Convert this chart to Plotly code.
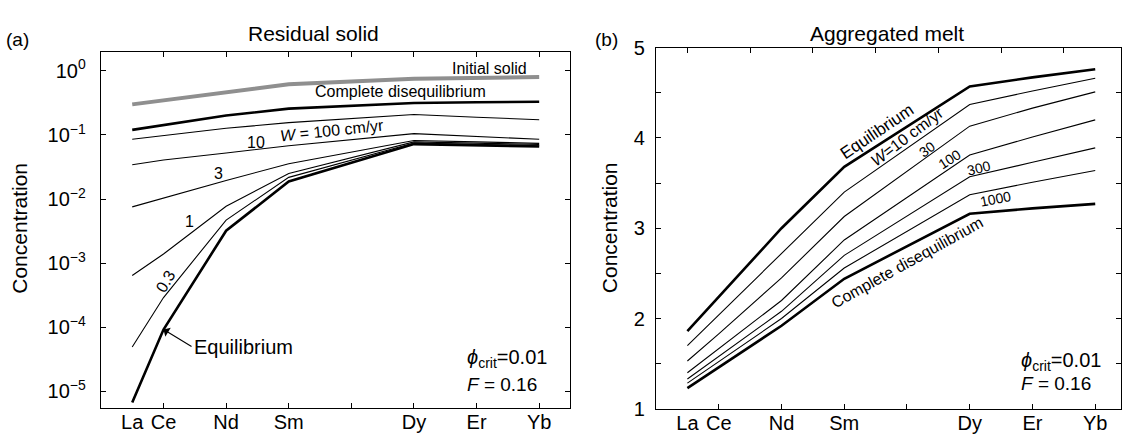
import numpy as np
import plotly.graph_objects as go

# ---------------- data ----------------
elements = ["La", "Ce", "Nd", "Sm", "Dy", "Er", "Yb"]
atomic_number = [57, 58, 60, 62, 66, 68, 70]

tick_positions = [58, 60, 62, 64, 66, 68, 70]
top_tick_positions_b = [57, 59, 61, 63, 65, 67, 69]

# (a) Residual solid
solid_initial = [0.30, 0.346, 0.45, 0.62, 0.753, 0.775, 0.80]
solid_complete_diseq = [0.120, 0.143, 0.201, 0.258, 0.316, 0.324, 0.33]
solid_W100 = [0.0855, 0.098, 0.127, 0.156, 0.208, 0.189, 0.173]
solid_W10 = [0.0343, 0.0407, 0.0524, 0.068, 0.105, 0.0946, 0.0855]
solid_W3 = [0.00755, 0.0104, 0.0195, 0.0355, 0.082, 0.078, 0.074]
solid_W1 = [0.00064, 0.00139, 0.0077, 0.025, 0.078, 0.075, 0.071]
solid_W03 = [4.9e-5, 2.9e-4, 0.0047, 0.0218, 0.075, 0.071, 0.068]
solid_equilibrium = [6.7e-6, 9.2e-5, 0.0032, 0.0188, 0.072, 0.069, 0.066]

a_ytick_vals = [1e-5, 1e-4, 1e-3, 1e-2, 1e-1, 1e0]
a_ytick_text = ["10<sup>−5</sup>", "10<sup>−4</sup>", "10<sup>−3</sup>",
                "10<sup>−2</sup>", "10<sup>−1</sup>", "10<sup>0</sup>"]

# (b) Aggregated melt
melt_equilibrium = [1.86, 2.24, 3.00, 3.68, 4.57, 4.67, 4.76]
melt_W10 = [1.70, 2.04, 2.73, 3.40, 4.37, 4.52, 4.66]
melt_W30 = [1.53, 1.83, 2.45, 3.13, 4.13, 4.33, 4.51]
melt_W100 = [1.40, 1.67, 2.20, 2.87, 3.81, 4.01, 4.20]
melt_W300 = [1.33, 1.58, 2.08, 2.70, 3.57, 3.73, 3.89]
melt_W1000 = [1.285, 1.52, 2.00, 2.56, 3.37, 3.51, 3.64]
melt_complete_diseq = [1.23, 1.46, 1.92, 2.44, 3.16, 3.22, 3.27]

b_ytick_vals = [1, 1.5, 2, 2.5, 3, 3.5, 4, 4.5, 5]
b_ytick_text = ["1", "", "2", "", "3", "", "4", "", "5"]

# ---------------- layout helpers ----------------
W, H = 1122, 446
FONT = "Liberation Sans, Arial, Helvetica, sans-serif"


def px(x):
    return x / W


def py(y):
    return 1 - y / H


fig = go.Figure()

thin = dict(color="black", width=1.1)
thick = dict(color="black", width=2.6)

for ys, ln in [
    (solid_initial, dict(color="#8f8f8f", width=4)),
    (solid_complete_diseq, thick),
    (solid_W100, thin),
    (solid_W10, thin),
    (solid_W3, thin),
    (solid_W1, thin),
    (solid_W03, thin),
    (solid_equilibrium, thick),
]:
    fig.add_trace(go.Scatter(x=atomic_number, y=ys, mode="lines", line=ln,
                             xaxis="x", yaxis="y", hoverinfo="skip"))

for ys, ln in [
    (melt_equilibrium, thick),
    (melt_W10, thin),
    (melt_W30, thin),
    (melt_W100, thin),
    (melt_W300, thin),
    (melt_W1000, thin),
    (melt_complete_diseq, thick),
]:
    fig.add_trace(go.Scatter(x=atomic_number, y=ys, mode="lines", line=ln,
                             xaxis="x2", yaxis="y2", hoverinfo="skip"))

# empty traces that register the tick-only overlay axes
for xa, ya in [("x3", "y2"), ("x4", "y"), ("x5", "y"), ("x6", "y2")]:
    fig.add_trace(go.Scatter(x=[], y=[], xaxis=xa, yaxis=ya, hoverinfo="skip"))

tickfont = dict(family=FONT, size=20, color="black")
line_common = dict(showgrid=False, zeroline=False, showline=True, linecolor="black",
                   linewidth=1.2)
tick_common = dict(ticks="inside", ticklen=5, tickcolor="black", tickwidth=1)
tick_only = dict(showgrid=False, zeroline=False, showline=False, showticklabels=False,
                 **tick_common)

xr_a = [56, 71]
xr_b = [56, 56 + (W - 656.6) / 31.4]

fig.update_layout(
    width=W, height=H,
    margin=dict(l=0, r=0, t=0, b=0),
    paper_bgcolor="white", plot_bgcolor="white",
    showlegend=False,
    font=dict(family=FONT, color="black"),
    # panel (a): element labels (no marks at La) + tick-only overlays
    xaxis=dict(domain=[px(101), px(571)], range=xr_a, anchor="y",
               tickvals=atomic_number, ticktext=elements, ticks="",
               mirror=True, ticklabelstandoff=-4, tickfont=tickfont, **line_common),
    xaxis4=dict(overlaying="x", anchor="y", side="bottom", range=xr_a,
                tickvals=tick_positions, **tick_only),
    xaxis5=dict(overlaying="x", anchor="y", side="top", range=xr_a,
                tickvals=tick_positions, **tick_only),
    yaxis=dict(domain=[py(418), py(42.7)], type="log", range=[-5.267, 0.301],
               anchor="x", tickvals=a_ytick_vals, ticktext=a_ytick_text,
               mirror="ticks", ticklabelstandoff=10, tickfont=tickfont,
               **line_common, **tick_common),
    # panel (b)
    xaxis2=dict(domain=[px(656.6), 1.0], range=xr_b, anchor="y2",
                tickvals=atomic_number, ticktext=elements, ticks="",
                mirror=True, ticklabelstandoff=-4, tickfont=tickfont, **line_common),
    xaxis6=dict(overlaying="x2", anchor="y2", side="bottom", range=xr_b,
                tickvals=tick_positions, **tick_only),
    xaxis3=dict(overlaying="x2", anchor="y2", side="top", range=xr_b,
                tickvals=top_tick_positions_b, **tick_only),
    yaxis2=dict(domain=[py(418.5), py(38.5)], range=[1, 5], anchor="x2",
                tickvals=b_ytick_vals, ticktext=b_ytick_text, mirror="ticks",
                ticklabelstandoff=6, tickfont=tickfont, **line_common, **tick_common),
)

ann = []


def text(x, y, s, size=16, angle=0, xanchor="center", yanchor="middle"):
    ann.append(dict(x=px(x), y=py(y), xref="paper", yref="paper", text=s,
                    showarrow=False, textangle=angle, xanchor=xanchor, yanchor=yanchor,
                    font=dict(family=FONT, size=size, color="black")))


# panel (a)
text(18, 30, "(a)", 19)
text(314, 24, "Residual solid", 21)
text(20, 228, "Concentration", 21, angle=-90)
text(490, 61, "Initial solid", 16)
text(401, 85, "Complete disequilibrium", 16)
text(332, 126, "<i>W</i> = 100 cm/yr", 16, angle=-6)
text(256, 138, "10", 16)
text(219, 171, "3", 16)
text(190, 221, "1", 16)
text(166, 285, "0.3", 16, angle=-60)
text(465, 366, "<i>ϕ</i><sub>crit</sub>=0.01", 20, xanchor="left")
text(465, 393, "<i>F</i> = 0.16", 19, xanchor="left")
ann.append(dict(x=atomic_number[1], y=float(np.log10(solid_equilibrium[1])),
                xref="x", yref="y", text="Equilibrium", showarrow=True,
                ax=28, ay=17, xanchor="left", yanchor="middle",
                arrowhead=1, arrowsize=1.6, arrowwidth=1.1, arrowcolor="black",
                font=dict(family=FONT, size=20, color="black")))

# panel (b)
text(607, 30, "(b)", 19)
text(888, 24, "Aggregated melt", 21)
text(610, 228, "Concentration", 21, angle=-90)
text(878, 127, "Equilibrium", 17, angle=-34)
text(908, 132, "<i>W</i>=10 cm/yr", 16, angle=-37)
text(928, 145, "30", 14, angle=-37)
text(951, 156, "100", 14, angle=-33)
text(980, 165, "300", 14, angle=-14)
text(996, 198, "1000", 14, angle=-11)
text(908, 265, "Complete disequilibrium", 16, angle=-29)
text(1020, 369, "<i>ϕ</i><sub>crit</sub>=0.01", 20, xanchor="left")
text(1020, 392, "<i>F</i> = 0.16", 19, xanchor="left")

fig.update_layout(annotations=ann)

fig.write_html("out.html")
